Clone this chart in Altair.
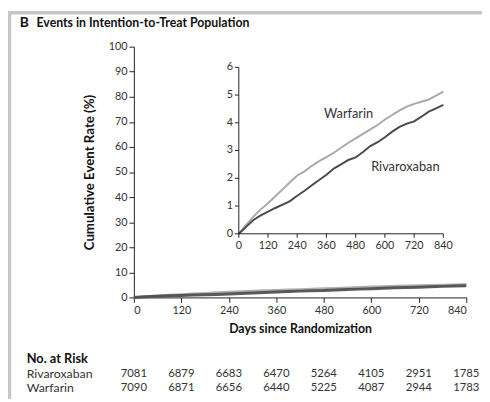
import altair as alt
import pandas as pd

# ---------------- data ----------------
days = [0, 30, 60, 90, 120, 150, 180, 210, 240, 270, 300, 330, 360, 390, 420,
        450, 480, 510, 540, 570, 600, 630, 660, 690, 720, 750, 780, 810, 840]
warfarin = [0, 0.32, 0.62, 0.88, 1.1, 1.35, 1.6, 1.86, 2.1, 2.25, 2.45, 2.62, 2.76, 2.92, 3.1,
            3.28, 3.44, 3.6, 3.76, 3.92, 4.12, 4.28, 4.45, 4.58, 4.68, 4.76, 4.84, 4.98, 5.12]
rivaroxaban = [0, 0.25, 0.5, 0.66, 0.8, 0.93, 1.05, 1.18, 1.37, 1.55, 1.75, 1.94, 2.13, 2.35, 2.5,
               2.66, 2.75, 2.95, 3.16, 3.3, 3.48, 3.68, 3.85, 3.97, 4.05, 4.22, 4.4, 4.52, 4.65]
groups = ["Rivaroxaban", "Warfarin"]
tick_days = [0, 120, 240, 360, 480, 600, 720, 840]
main_y_ticks = [0, 10, 20, 30, 40, 50, 60, 70, 80, 90, 100]
inset_y_ticks = [0, 1, 2, 3, 4, 5, 6]
risk_rivaroxaban = [7081, 6879, 6683, 6470, 5264, 4105, 2951, 1785]
risk_warfarin = [7090, 6871, 6656, 6440, 5225, 4087, 2944, 1783]
panel_letter = "B"
panel_title = "Events in Intention-to-Treat Population"
x_title = "Days since Randomization"
y_title = "Cumulative Event Rate (%)"
risk_title = "No. at Risk"
inset_labels = ["Warfarin", "Rivaroxaban"]
inset_label_day = [451, 684]
inset_label_rate = [4.3, 2.4]

# ---------------- layout ----------------
W, H = 338, 255
FONT = "Lato"
DARK = "#4a4a4a"
LIGHT = "#a9a9a9"
TXT = "#333333"

n = len(days)
curves = pd.DataFrame({
    "day": days * 2,
    "rate": warfarin + rivaroxaban,
    "group": ["Warfarin"] * n + ["Rivaroxaban"] * n,
})
color = alt.Color("group:N", scale=alt.Scale(domain=groups, range=[DARK, LIGHT]), legend=None)
one = pd.DataFrame({"k": [0]})

# ---------- main panel ----------
xmain = alt.X("day:Q", scale=alt.Scale(domain=[0, 840], nice=False),
              axis=alt.Axis(values=tick_days, title=x_title, titlePadding=8))
ymain = alt.Y("rate:Q", scale=alt.Scale(domain=[0, 100], nice=False),
              axis=alt.Axis(values=main_y_ticks, title=y_title, titlePadding=12,
                            titleFontSize=13.5))

main_lines = alt.Chart(curves).mark_line(strokeWidth=3, opacity=0.9).encode(
    x=xmain, y=ymain, color=color, order="day:Q")

frame_left = alt.Chart(one).mark_rule(stroke="#c6c6c6", strokeWidth=3.5).encode(
    x=alt.value(-126.5), y=alt.value(-36), y2=alt.value(360))
frame_top = alt.Chart(one).mark_rule(stroke="#c6c6c6", strokeWidth=3.5).encode(
    x=alt.value(-128), x2=alt.value(360), y=alt.value(-34.5))

title_letter = alt.Chart(pd.DataFrame({"t": [panel_letter]})).mark_text(
    font=FONT, fontSize=14, fontWeight="bold", align="left", baseline="middle", color="#111"
).encode(x=alt.value(-116), y=alt.value(-24), text="t:N")
title_text = alt.Chart(pd.DataFrame({"t": [panel_title]})).mark_text(
    font=FONT, fontSize=12.5, fontWeight="bold", align="left", baseline="middle", color="#111"
).encode(x=alt.value(-99), y=alt.value(-24), text="t:N")

risk_head = alt.Chart(pd.DataFrame({"t": [risk_title]})).mark_text(
    font=FONT, fontSize=13, fontWeight="bold", align="left", baseline="middle", color="#111"
).encode(x=alt.value(-109), y=alt.value(317.7), text="t:N")
risk_names_r = alt.Chart(pd.DataFrame({"t": [groups[0]]})).mark_text(
    font=FONT, fontSize=12.5, align="left", baseline="middle", color=TXT
).encode(x=alt.value(-109), y=alt.value(332.7), text="t:N")
risk_names_w = alt.Chart(pd.DataFrame({"t": [groups[1]]})).mark_text(
    font=FONT, fontSize=12.5, align="left", baseline="middle", color=TXT
).encode(x=alt.value(-109), y=alt.value(347), text="t:N")

risk_r = alt.Chart(pd.DataFrame({"day": tick_days, "n": risk_rivaroxaban})).mark_text(
    font=FONT, fontSize=11.5, align="center", baseline="middle", color=TXT
).encode(x=alt.X("day:Q"), y=alt.value(332.7), text="n:Q")
risk_w = alt.Chart(pd.DataFrame({"day": tick_days, "n": risk_warfarin})).mark_text(
    font=FONT, fontSize=11.5, align="center", baseline="middle", color=TXT
).encode(x=alt.X("day:Q"), y=alt.value(347), text="n:Q")

main = alt.layer(main_lines, frame_left, frame_top, title_letter, title_text,
                 risk_head, risk_names_r, risk_names_w, risk_r, risk_w)

# ---------- inset ----------
X0, X1 = 106.7, 314.7
Y0, Y1 = 190.3, 21.0
xs = alt.Scale(domain=[0, 840], range=[X0, X1], nice=False)
ys = alt.Scale(domain=[0, 6], range=[Y0, Y1], nice=False)

inset_lines = alt.Chart(curves).mark_line(strokeWidth=2).encode(
    x=alt.X("day:Q", scale=xs, axis=None),
    y=alt.Y("rate:Q", scale=ys, axis=None),
    color=color, order="day:Q")

axis_df = pd.DataFrame({"a": [0], "b": [840], "c": [0], "d": [6]})
inset_xdomain = alt.Chart(axis_df).mark_rule(stroke="#222", strokeWidth=1).encode(
    x=alt.X("a:Q", scale=xs, axis=None), x2="b:Q",
    y=alt.Y("c:Q", scale=ys, axis=None))
inset_ydomain = alt.Chart(axis_df).mark_rule(stroke="#222", strokeWidth=1).encode(
    x=alt.X("a:Q", scale=xs, axis=None),
    y=alt.Y("c:Q", scale=ys, axis=None), y2="d:Q")

xt = pd.DataFrame({"day": tick_days})
inset_xticks = alt.Chart(xt).mark_rule(stroke="#222", strokeWidth=1).encode(
    x=alt.X("day:Q", scale=xs, axis=None), y=alt.value(Y0), y2=alt.value(Y0 + 4))
inset_xlabels = alt.Chart(xt).mark_text(
    font=FONT, fontSize=11, align="center", baseline="top", color=TXT
).encode(x=alt.X("day:Q", scale=xs, axis=None), y=alt.value(Y0 + 6), text="day:Q")

yt = pd.DataFrame({"v": inset_y_ticks})
inset_yticks = alt.Chart(yt).mark_rule(stroke="#222", strokeWidth=1).encode(
    y=alt.Y("v:Q", scale=ys, axis=None), x=alt.value(X0 - 4), x2=alt.value(X0))
inset_ylabels = alt.Chart(yt).mark_text(
    font=FONT, fontSize=11, align="right", baseline="middle", color=TXT
).encode(y=alt.Y("v:Q", scale=ys, axis=None), x=alt.value(X0 - 6), text="v:Q")

lab = pd.DataFrame({"t": inset_labels, "day": inset_label_day, "rate": inset_label_rate})
inset_text = alt.Chart(lab).mark_text(
    font=FONT, fontSize=13, align="center", baseline="middle", color=TXT
).encode(x=alt.X("day:Q", scale=xs, axis=None),
         y=alt.Y("rate:Q", scale=ys, axis=None), text="t:N")

inset = alt.layer(inset_lines, inset_xdomain, inset_ydomain, inset_xticks, inset_xlabels,
                  inset_yticks, inset_ylabels, inset_text)

chart = alt.layer(main, inset).resolve_scale(x="independent", y="independent").properties(
    width=W, height=H,
    padding={"left": 128, "top": 36, "right": 16, "bottom": 100},
    autosize=alt.AutoSizeParams(type="none"),
).configure_view(stroke=None).configure_axis(
    labelFont=FONT, labelFontSize=11, labelColor=TXT,
    titleFont=FONT, titleFontSize=12.5, titleFontWeight="bold", titleColor="#111",
    domainColor="#222", tickColor="#222", tickSize=5, grid=False, labelPadding=2,
)

chart.save("out.html", embed_options={"renderer": "svg", "actions": False})
